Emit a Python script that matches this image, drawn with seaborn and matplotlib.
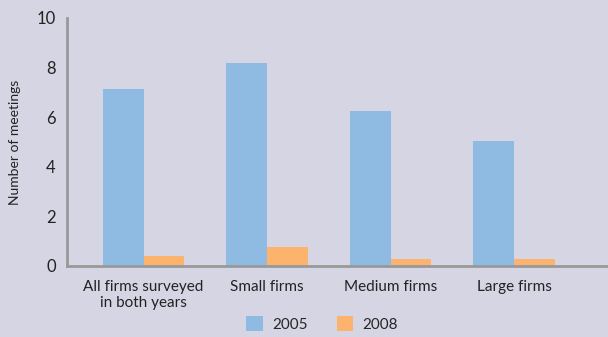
import matplotlib
matplotlib.use("Agg")
import matplotlib.pyplot as plt
import seaborn as sns
import pandas as pd
from matplotlib.patches import Patch

categories = ["All firms surveyed\nin both years", "Small firms", "Medium firms", "Large firms"]
years = ["2005", "2008"]
values_2005 = [7.15, 8.2, 6.26, 5.05]
values_2008 = [0.42, 0.75, 0.3, 0.3]

df = pd.DataFrame({
    "category": categories * 2,
    "year": [years[0]] * 4 + [years[1]] * 4,
    "value": values_2005 + values_2008,
})

bg = "#d6d5e3"
colors = {"2005": "#8fbbe2", "2008": "#fbb36e"}

sns.set_theme(style="white")
plt.rcParams["font.family"] = ["Lato", "DejaVu Sans"]

fig = plt.figure(figsize=(6.08, 3.37), dpi=100, facecolor=bg)
ax = fig.add_axes([67/608, 1 - 266/337, (608 - 67)/608, (266 - 18)/337])
ax.set_facecolor(bg)

sns.barplot(data=df, x="category", y="value", hue="year", palette=colors,
            width=0.66, saturation=1, ax=ax, legend=False, linewidth=0,
            edgecolor="none")

ax.set_ylim(0, 10)
ax.set_xlim(-0.62, 3.76)
ax.set_yticks([0, 2, 4, 6, 8, 10])
ax.tick_params(axis="both", length=0, labelsize=11, colors="#222222")
ax.tick_params(axis="y", labelsize=12, pad=8)
ax.tick_params(axis="x", pad=10)
ax.set_xlabel("")
ax.set_ylabel("Number of meetings", fontsize=10, color="#222222")
ax.yaxis.set_label_coords(-0.085, 0.5)
for lbl in ax.get_xticklabels():
    lbl.set_linespacing(1.15)

for s in ["top", "right"]:
    ax.spines[s].set_visible(False)
for s in ["left", "bottom"]:
    ax.spines[s].set_color("#999999")
    ax.spines[s].set_linewidth(2)

handles = [Patch(facecolor=colors[y], edgecolor="none", label=y) for y in years]
fig.legend(handles=handles, loc="center", bbox_to_anchor=(322/608, 1 - 324/337),
           ncol=2, frameon=False, fontsize=11, handlelength=1.1, handleheight=1.1,
           columnspacing=1.9, handletextpad=0.6)

fig.savefig("out.png", dpi=100, facecolor=bg)
